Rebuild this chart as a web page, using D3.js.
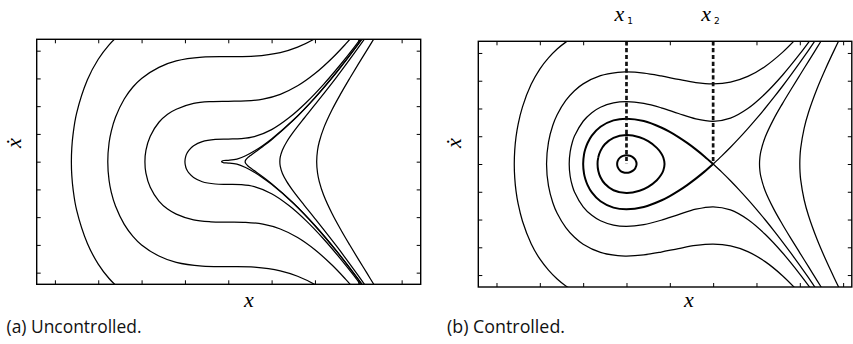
<!DOCTYPE html>
<html>
<head>
<meta charset="utf-8">
<script src="https://cdn.jsdelivr.net/npm/d3@7"></script>
<style>
  html, body { margin: 0; padding: 0; background: #fff; }
  svg { display: block; }
</style>
</head>
<body>
<svg id="chart" width="853" height="344"></svg>
<script>
// ---------- DATA ([x, xdot] pairs in axis units) ----------
const ticksXLeft  = [-4, -3, -2, -1, 0, 1, 2, 3, 4];
const ticksYLeft  = [-4, -3, -2, -1, 0, 1, 2, 3, 4];
const ticksXRight = [-3, -2, -1, 0, 1, 2, 3, 4, 5];
const ticksYRight = [-4, -3, -2, -1, 0, 1, 2, 3, 4];

// (a) uncontrolled trajectories
const unc1 = [[-2.5,4.6],[-2.75,4.21],[-3,3.69],[-3.25,2.95],[-3.5,1.74],[-3.58,1.0],[-3.61,0.5],[-3.62,0],[-3.61,-0.5],[-3.58,-1.0],[-3.5,-1.74],[-3.25,-2.95],[-3,-3.69],[-2.75,-4.21],[-2.5,-4.6]];
const unc2 = [[2.9,4.58],[2.7,4.226],[2.4,3.736],[2,3.174],[1.6,2.733],[1.2,2.427],[0.8,2.254],[0.4,2.187],[0,2.177],[-0.4,2.167],[-0.8,2.10],[-1.2,1.89],[-1.4,1.71],[-1.6,1.42],[-1.8,0.92],[-1.9,0.41],[-1.923,0],[-1.9,-0.41],[-1.8,-0.92],[-1.6,-1.42],[-1.4,-1.71],[-1.2,-1.89],[-0.8,-2.10],[-0.4,-2.167],[0,-2.177],[0.4,-2.187],[0.8,-2.254],[1.2,-2.427],[1.6,-2.733],[2,-3.174],[2.4,-3.736],[2.7,-4.226],[2.9,-4.58]];
const unc3 = [[2.3,4.74],[2,4.43],[1.6,4.13],[1.2,3.933],[0.6,3.803],[0,3.784],[-0.6,3.765],[-1.2,3.63],[-1.6,3.40],[-2,3.0],[-2.2,2.69],[-2.4,2.26],[-2.6,1.61],[-2.7,1.095],[-2.75,0.68],[-2.78,0],[-2.75,-0.68],[-2.7,-1.095],[-2.6,-1.61],[-2.4,-2.26],[-2.2,-2.69],[-2,-3.0],[-1.6,-3.40],[-1.2,-3.63],[-0.6,-3.765],[0,-3.784],[0.6,-3.803],[1.2,-3.933],[1.6,-4.13],[2,-4.43],[2.3,-4.74]];
const unc4 = [[3.1,4.53],[2.9,4.11],[2.6,3.52],[2.2,2.787],[1.8,2.134],[1.4,1.58],[1,1.155],[0.6,0.90],[0.3,0.828],[0,0.816],[-0.3,0.805],[-0.6,0.723],[-0.8,0.571],[-0.9,0.425],[-0.95,0.31],[-0.98,0.2],[-1,0],[-0.98,-0.2],[-0.95,-0.31],[-0.9,-0.425],[-0.8,-0.571],[-0.6,-0.723],[-0.3,-0.805],[0,-0.816],[0.3,-0.828],[0.6,-0.90],[1,-1.155],[1.4,-1.58],[1.8,-2.134],[2.2,-2.787],[2.6,-3.52],[2.9,-4.11],[3.1,-4.53]];
const unc5 = [[3.2,4.674],[3,4.243],[2.5,3.228],[2,2.31],[1.5,1.50],[1,0.818],[0.8,0.586],[0.6,0.383],[0.4,0.212],[0.2,0.088],[0,0.049],[-0.1,0.042],[-0.14,0.024],[-0.153,0],[-0.14,-0.024],[-0.1,-0.042],[0,-0.049],[0.2,-0.088],[0.4,-0.212],[0.6,-0.383],[0.8,-0.586],[1,-0.818],[1.5,-1.50],[2,-2.31],[2.5,-3.228],[3,-4.243],[3.2,-4.674]];
const unc6 = [[3.2,4.67],[3,4.238],[2.5,3.222],[2,2.301],[1.5,1.487],[1,0.792],[0.8,0.549],[0.6,0.323],[0.5,0.21],[0.45,0.146],[0.4,0.057],[0.3895,0],[0.4,-0.057],[0.45,-0.146],[0.5,-0.21],[0.6,-0.323],[0.8,-0.549],[1,-0.792],[1.5,-1.487],[2,-2.301],[2.5,-3.222],[3,-4.238],[3.2,-4.67]];
const unc7 = [[3.2,4.55],[3,4.108],[2.5,3.048],[2,2.052],[1.75,1.565],[1.5,1.062],[1.35,0.719],[1.25,0.423],[1.2,0.17],[1.19,0],[1.2,-0.17],[1.25,-0.423],[1.35,-0.719],[1.5,-1.062],[1.75,-1.565],[2,-2.052],[2.5,-3.048],[3,-4.108],[3.2,-4.55]];
const unc8 = [[3.4,4.53],[3.2,4.02],[3,3.513],[2.8,2.996],[2.6,2.461],[2.4,1.886],[2.2,1.2],[2.1,0.717],[2.06,0.41],[2.04,0],[2.06,-0.41],[2.1,-0.717],[2.2,-1.2],[2.4,-1.886],[2.6,-2.461],[2.8,-2.996],[3,-3.513],[3.2,-4.02],[3.4,-4.53]];

// (b) controlled trajectories
const con1 = [[-1.2,4.58],[-1.4,4.39],[-1.6,4.14],[-1.8,3.82],[-2,3.42],[-2.2,2.87],[-2.4,2.06],[-2.5,1.44],[-2.55,0.97],[-2.579,0.5],[-2.59,0],[-2.579,-0.5],[-2.55,-0.97],[-2.5,-1.44],[-2.4,-2.06],[-2.2,-2.87],[-2,-3.42],[-1.8,-3.82],[-1.6,-4.14],[-1.4,-4.39],[-1.2,-4.58]];
const con2 = [[3.9,4.486],[3.6,4.022],[3.2,3.516],[2.8,3.155],[2.4,2.949],[2,2.887],[1.6,2.934],[1.2,3.045],[0.8,3.172],[0.4,3.275],[0,3.317],[-0.2,3.304],[-0.6,3.184],[-1,2.887],[-1.2,2.64],[-1.4,2.29],[-1.6,1.775],[-1.7,1.395],[-1.8,0.79],[-1.845,0],[-1.8,-0.79],[-1.7,-1.395],[-1.6,-1.775],[-1.4,-2.29],[-1.2,-2.64],[-1,-2.887],[-0.6,-3.184],[-0.2,-3.304],[0,-3.317],[0.4,-3.275],[0.8,-3.172],[1.2,-3.045],[1.6,-2.934],[2,-2.887],[2.4,-2.949],[2.8,-3.155],[3.2,-3.516],[3.6,-4.022],[3.9,-4.486]];
const con3 = [[4.3,4.59],[4,3.963],[3.6,3.197],[3.2,2.531],[2.8,1.999],[2.4,1.654],[2,1.54],[1.6,1.628],[1.2,1.82],[0.8,2.025],[0.4,2.182],[0,2.245],[-0.3,2.2],[-0.6,2.044],[-0.8,1.849],[-1,1.54],[-1.2,1.005],[-1.25,0.783],[-1.3,0.44],[-1.322,0],[-1.3,-0.44],[-1.25,-0.783],[-1.2,-1.005],[-1,-1.54],[-0.8,-1.849],[-0.6,-2.044],[-0.3,-2.2],[0,-2.245],[0.4,-2.182],[0.8,-2.025],[1.2,-1.82],[1.6,-1.628],[2,-1.54],[2.4,-1.654],[2.8,-1.999],[3.2,-2.531],[3.6,-3.197],[4,-3.963],[4.3,-4.59]];
const sepLoop = [[2,0],[1.8,0.274],[1.6,0.527],[1.4,0.759],[1.2,0.969],[1.0,1.155],[0.8,1.314],[0.4,1.546],[0,1.633],[-0.3,1.571],[-0.6,1.343],[-0.8,1.023],[-0.9,0.749],[-0.95,0.539],[-0.98,0.345],[-1,0],[-0.98,-0.345],[-0.95,-0.539],[-0.9,-0.749],[-0.8,-1.023],[-0.6,-1.343],[-0.3,-1.571],[0,-1.633],[0.4,-1.546],[0.8,-1.314],[1.0,-1.155],[1.2,-0.969],[1.4,-0.759],[1.6,-0.527],[1.8,-0.274],[2,0]];
const sepUpper = [[2,0],[2.2,0.293],[2.4,0.602],[2.6,0.93],[2.8,1.274],[3,1.633],[3.2,2.008],[3.4,2.397],[3.6,2.801],[3.8,3.22],[4,3.652],[4.2,4.096],[4.4,4.554]];
const sepLower = [[2,0],[2.2,-0.293],[2.4,-0.602],[2.6,-0.93],[2.8,-1.274],[3,-1.633],[3.2,-2.008],[3.4,-2.397],[3.6,-2.801],[3.8,-3.22],[4,-3.652],[4.2,-4.096],[4.4,-4.554]];
const con5 = [[4.6,4.70],[4.4,4.199],[4.2,3.697],[4,3.198],[3.8,2.694],[3.6,2.177],[3.4,1.625],[3.2,0.962],[3.1,0.448],[3.0795,0.25],[3.07,0],[3.0795,-0.25],[3.1,-0.448],[3.2,-0.962],[3.4,-1.625],[3.6,-2.177],[3.8,-2.694],[4,-3.198],[4.2,-3.697],[4.4,-4.199],[4.6,-4.70]];
const con6 = [[5,4.76],[4.8,4.12],[4.6,3.45],[4.4,2.72],[4.2,1.855],[4.1,1.287],[4.02,0.565],[4.005,0.28],[4,0],[4.005,-0.28],[4.02,-0.565],[4.1,-1.287],[4.2,-1.855],[4.4,-2.72],[4.6,-3.45],[4.8,-4.12],[5,-4.76]];
const orbitMid = [[-0.668,0],[-0.65,0.249],[-0.6,0.475],[-0.5,0.712],[-0.3,0.944],[0,1.044],[0.3,0.963],[0.5,0.821],[0.7,0.582],[0.8,0.389],[0.85,0.233],[0.878,0],[0.85,-0.233],[0.8,-0.389],[0.7,-0.582],[0.5,-0.821],[0.3,-0.963],[0,-1.044],[-0.3,-0.944],[-0.5,-0.712],[-0.6,-0.475],[-0.65,-0.249]];
const orbitSmall = [[-0.216,0],[-0.2,0.121],[-0.15,0.23],[-0.08,0.295],[0,0.316],[0.08,0.296],[0.15,0.239],[0.2,0.159],[0.233,0],[0.2,-0.159],[0.15,-0.239],[0.08,-0.296],[0,-0.316],[-0.08,-0.295],[-0.15,-0.23],[-0.2,-0.121]];

const equilibria = [{name: "1", x: 0}, {name: "2", x: 2}];
const captions = ["(a) Uncontrolled.", "(b) Controlled."];

// ---------- DRAWING ----------
const svg = d3.select("#chart");
const mathFont = "'Liberation Serif', 'Times New Roman', serif";

const xL = d3.scaleLinear().domain([-4.42, 4.44]).range([36.7, 420.7]);
const yL = d3.scaleLinear().domain([-4.42, 4.41]).range([284.3, 39.3]);
const xR = d3.scaleLinear().domain([-3.42, 5.2]).range([478.3, 851.8]);
const yR = d3.scaleLinear().domain([-4.43, 4.42]).range([287, 41.3]);

function panel(id, x, y, tx, ty) {
  const g = svg.append("g");
  const [x0, x1] = x.range();
  const [y0, y1] = [y.range()[1], y.range()[0]];
  svg.append("defs").append("clipPath").attr("id", id)
    .append("rect").attr("x", x0).attr("y", y0).attr("width", x1 - x0).attr("height", y1 - y0);
  const axes = [
    [d3.axisBottom(x).tickValues(tx), `translate(0,${y1})`],
    [d3.axisTop(x).tickValues(tx), `translate(0,${y0})`],
    [d3.axisLeft(y).tickValues(ty), `translate(${x0},0)`],
    [d3.axisRight(y).tickValues(ty), `translate(${x1},0)`]
  ];
  axes.forEach(([ax, tr]) => {
    const a = g.append("g").attr("transform", tr)
      .call(ax.tickSize(-4).tickSizeOuter(0).tickFormat(""));
    a.select(".domain").remove();
    a.selectAll("line").attr("stroke", "#000").attr("stroke-width", 1);
  });
  const plot = g.append("g").attr("clip-path", `url(#${id})`);
  g.append("rect").attr("x", x0).attr("y", y0).attr("width", x1 - x0).attr("height", y1 - y0)
    .attr("fill", "none").attr("stroke", "#000").attr("stroke-width", 1.4);
  return plot;
}

const pL = panel("clipL", xL, yL, ticksXLeft, ticksYLeft);
const pR = panel("clipR", xR, yR, ticksXRight, ticksYRight);

const lineL = d3.line().x(d => xL(d[0])).y(d => yL(d[1])).curve(d3.curveCatmullRom.alpha(0.5));
const lineR = d3.line().x(d => xR(d[0])).y(d => yR(d[1])).curve(d3.curveCatmullRom.alpha(0.5));
const lineRc = d3.line().x(d => xR(d[0])).y(d => yR(d[1])).curve(d3.curveCatmullRomClosed.alpha(0.5));

[unc1, unc2, unc3, unc4, unc5, unc6, unc7, unc8].forEach(c => {
  pL.append("path").attr("d", lineL(c)).attr("fill", "none")
    .attr("stroke", "#000").attr("stroke-width", 1.25);
});

[con1, con2, con3, sepUpper, sepLower, con5, con6].forEach(c => {
  pR.append("path").attr("d", lineR(c)).attr("fill", "none")
    .attr("stroke", "#000").attr("stroke-width", 1.25);
});
pR.append("path").attr("d", lineR(sepLoop)).attr("fill", "none")
  .attr("stroke", "#000").attr("stroke-width", 2);
[orbitMid, orbitSmall].forEach(c => {
  pR.append("path").attr("d", lineRc(c)).attr("fill", "none")
    .attr("stroke", "#000").attr("stroke-width", 2);
});

// dashed equilibrium markers
equilibria.forEach(e => {
  pR.append("line")
    .attr("x1", xR(e.x)).attr("x2", xR(e.x))
    .attr("y1", yR.range()[1]).attr("y2", yR(0))
    .attr("stroke", "#111").attr("stroke-width", 2.7).attr("stroke-dasharray", "4.2,2.6");
  const t = svg.append("text").attr("x", xR(e.x) - 12).attr("y", 21)
    .attr("font-family", mathFont).attr("font-style", "italic").attr("font-size", 22);
  t.append("tspan").text("x");
  t.append("tspan").attr("dx", 3).attr("dy", 3).attr("font-style", "normal")
    .attr("font-family", "'DejaVu Sans', sans-serif").attr("font-size", 9).text(e.name);
});

// axis labels
[[xL, 249], [xR, 689]].forEach(([s, cx]) => {
  svg.append("text").attr("x", cx).attr("y", 307).attr("text-anchor", "middle")
    .attr("font-family", mathFont).attr("font-style", "italic").attr("font-size", 22)
    .text("x");
});
[[13, 143], [453, 143]].forEach(([cx, cy]) => {
  svg.append("text").attr("transform", `translate(${cx},${cy}) rotate(-90)`)
    .attr("text-anchor", "middle").attr("dominant-baseline", "central")
    .attr("font-family", mathFont).attr("font-style", "italic").attr("font-size", 22)
    .text("\u1E8B");
});

// captions
[[6.5, 135], [447, 118]].forEach(([cx, w], i) => {
  svg.append("text").attr("x", cx).attr("y", 333)
    .attr("font-family", "'Liberation Sans Narrow', 'Open Sans', sans-serif").attr("font-size", 19)
    .attr("textLength", w).attr("lengthAdjust", "spacingAndGlyphs")
    .attr("fill", "#111").text(captions[i]);
});
</script>
</body>
</html>
